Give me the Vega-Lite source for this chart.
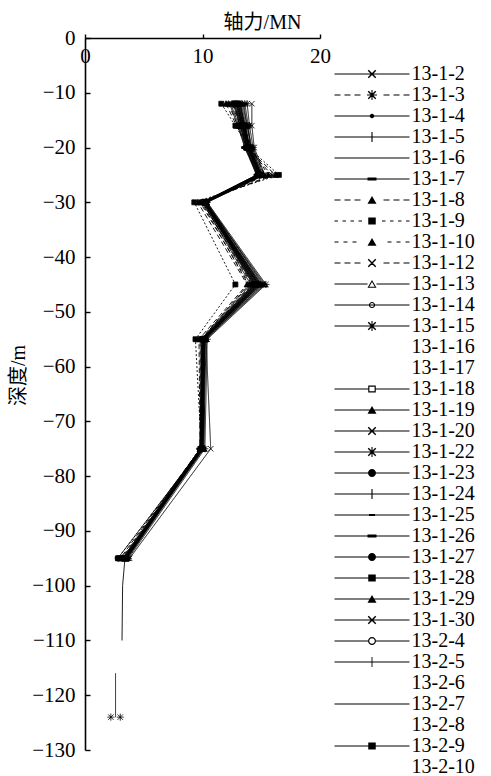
{
"$schema": "https://vega.github.io/schema/vega-lite/v6.json",
"autosize": {"type": "none"},
"width": 235,
"height": 712,
"padding": {"left": 85, "top": 38, "right": 171, "bottom": 26},
"data": {"values": [
{"s":"13-1-2","d":-12,"f":12.9},{"s":"13-1-2","d":-16,"f":13.4},{"s":"13-1-2","d":-20,"f":13.9},{"s":"13-1-2","d":-25,"f":14.8},{"s":"13-1-2","d":-30,"f":10.2},{"s":"13-1-2","d":-45,"f":14.9},{"s":"13-1-2","d":-55,"f":10.1},{"s":"13-1-2","d":-75,"f":9.9},{"s":"13-1-2","d":-95,"f":3.4},
{"s":"13-1-3","d":-12,"f":12.5},{"s":"13-1-3","d":-16,"f":13.2},{"s":"13-1-3","d":-20,"f":13.8},{"s":"13-1-3","d":-25,"f":15.9},{"s":"13-1-3","d":-30,"f":10.0},{"s":"13-1-3","d":-45,"f":14.2},{"s":"13-1-3","d":-55,"f":10.0},{"s":"13-1-3","d":-75,"f":9.8},{"s":"13-1-3","d":-95,"f":3.2},
{"s":"13-1-4","d":-12,"f":13.2},{"s":"13-1-4","d":-16,"f":13.6},{"s":"13-1-4","d":-20,"f":14.0},{"s":"13-1-4","d":-25,"f":15.0},{"s":"13-1-4","d":-30,"f":10.3},{"s":"13-1-4","d":-45,"f":15.2},{"s":"13-1-4","d":-55,"f":10.2},{"s":"13-1-4","d":-75,"f":10.0},{"s":"13-1-4","d":-95,"f":3.5},
{"s":"13-1-5","d":-12,"f":12.7},{"s":"13-1-5","d":-16,"f":13.3},{"s":"13-1-5","d":-20,"f":13.7},{"s":"13-1-5","d":-25,"f":14.6},{"s":"13-1-5","d":-30,"f":10.1},{"s":"13-1-5","d":-45,"f":14.7},{"s":"13-1-5","d":-55,"f":10.0},{"s":"13-1-5","d":-75,"f":9.9},{"s":"13-1-5","d":-95,"f":3.3},
{"s":"13-1-6","d":-12,"f":13.0},{"s":"13-1-6","d":-16,"f":13.5},{"s":"13-1-6","d":-20,"f":13.9},{"s":"13-1-6","d":-25,"f":14.9},{"s":"13-1-6","d":-30,"f":10.2},{"s":"13-1-6","d":-45,"f":14.5},{"s":"13-1-6","d":-55,"f":10.1},{"s":"13-1-6","d":-75,"f":9.9},{"s":"13-1-6","d":-95,"f":3.4},{"s":"13-1-6","d":-105,"f":null},{"s":"13-1-6","d":-116,"f":2.6},{"s":"13-1-6","d":-124,"f":2.6},
{"s":"13-1-7","d":-12,"f":12.4},{"s":"13-1-7","d":-16,"f":13.1},{"s":"13-1-7","d":-20,"f":13.6},{"s":"13-1-7","d":-25,"f":14.7},{"s":"13-1-7","d":-30,"f":10.1},{"s":"13-1-7","d":-45,"f":14.4},{"s":"13-1-7","d":-55,"f":10.0},{"s":"13-1-7","d":-75,"f":9.8},{"s":"13-1-7","d":-95,"f":3.3},
{"s":"13-1-8","d":-12,"f":12.0},{"s":"13-1-8","d":-16,"f":12.9},{"s":"13-1-8","d":-20,"f":13.8},{"s":"13-1-8","d":-25,"f":16.2},{"s":"13-1-8","d":-30,"f":9.6},{"s":"13-1-8","d":-45,"f":13.8},{"s":"13-1-8","d":-55,"f":9.7},{"s":"13-1-8","d":-75,"f":9.8},{"s":"13-1-8","d":-95,"f":3.0},
{"s":"13-1-9","d":-12,"f":11.6},{"s":"13-1-9","d":-16,"f":12.8},{"s":"13-1-9","d":-20,"f":13.9},{"s":"13-1-9","d":-25,"f":16.5},{"s":"13-1-9","d":-30,"f":9.3},{"s":"13-1-9","d":-45,"f":12.8},{"s":"13-1-9","d":-55,"f":9.4},{"s":"13-1-9","d":-75,"f":9.9},{"s":"13-1-9","d":-95,"f":2.8},
{"s":"13-1-10","d":-12,"f":12.2},{"s":"13-1-10","d":-16,"f":13.0},{"s":"13-1-10","d":-20,"f":14.1},{"s":"13-1-10","d":-25,"f":15.6},{"s":"13-1-10","d":-30,"f":9.8},{"s":"13-1-10","d":-45,"f":14.0},{"s":"13-1-10","d":-55,"f":9.8},{"s":"13-1-10","d":-75,"f":9.8},{"s":"13-1-10","d":-95,"f":3.1},
{"s":"13-1-12","d":-12,"f":12.6},{"s":"13-1-12","d":-16,"f":13.4},{"s":"13-1-12","d":-20,"f":14.2},{"s":"13-1-12","d":-25,"f":15.3},{"s":"13-1-12","d":-30,"f":9.9},{"s":"13-1-12","d":-45,"f":13.9},{"s":"13-1-12","d":-55,"f":9.9},{"s":"13-1-12","d":-75,"f":9.9},{"s":"13-1-12","d":-95,"f":3.2},
{"s":"13-1-13","d":-12,"f":13.4},{"s":"13-1-13","d":-16,"f":13.8},{"s":"13-1-13","d":-20,"f":14.2},{"s":"13-1-13","d":-25,"f":15.1},{"s":"13-1-13","d":-30,"f":10.3},{"s":"13-1-13","d":-45,"f":15.3},{"s":"13-1-13","d":-55,"f":10.3},{"s":"13-1-13","d":-75,"f":10.1},{"s":"13-1-13","d":-95,"f":3.6},
{"s":"13-1-14","d":-12,"f":13.1},{"s":"13-1-14","d":-16,"f":13.6},{"s":"13-1-14","d":-20,"f":14.0},{"s":"13-1-14","d":-25,"f":15.0},{"s":"13-1-14","d":-30,"f":10.2},{"s":"13-1-14","d":-45,"f":15.0},{"s":"13-1-14","d":-55,"f":10.1},{"s":"13-1-14","d":-75,"f":10.0},{"s":"13-1-14","d":-95,"f":3.5},
{"s":"13-1-15","d":-12,"f":13.8},{"s":"13-1-15","d":-16,"f":14.0},{"s":"13-1-15","d":-20,"f":14.3},{"s":"13-1-15","d":-25,"f":15.2},{"s":"13-1-15","d":-30,"f":10.4},{"s":"13-1-15","d":-45,"f":15.4},{"s":"13-1-15","d":-55,"f":10.4},{"s":"13-1-15","d":-75,"f":10.2},{"s":"13-1-15","d":-95,"f":3.7},{"s":"13-1-15","d":-105,"f":null},{"s":"13-1-15","d":-124,"f":2.2},
{"s":"13-1-18","d":-12,"f":13.0},{"s":"13-1-18","d":-16,"f":13.5},{"s":"13-1-18","d":-20,"f":13.9},{"s":"13-1-18","d":-25,"f":14.8},{"s":"13-1-18","d":-30,"f":10.2},{"s":"13-1-18","d":-45,"f":14.8},{"s":"13-1-18","d":-55,"f":10.1},{"s":"13-1-18","d":-75,"f":10.0},{"s":"13-1-18","d":-95,"f":3.4},
{"s":"13-1-19","d":-12,"f":12.8},{"s":"13-1-19","d":-16,"f":13.3},{"s":"13-1-19","d":-20,"f":13.8},{"s":"13-1-19","d":-25,"f":14.7},{"s":"13-1-19","d":-30,"f":10.1},{"s":"13-1-19","d":-45,"f":14.6},{"s":"13-1-19","d":-55,"f":10.1},{"s":"13-1-19","d":-75,"f":9.9},{"s":"13-1-19","d":-95,"f":3.3},
{"s":"13-1-20","d":-12,"f":14.2},{"s":"13-1-20","d":-16,"f":14.2},{"s":"13-1-20","d":-20,"f":14.4},{"s":"13-1-20","d":-25,"f":15.3},{"s":"13-1-20","d":-30,"f":10.4},{"s":"13-1-20","d":-45,"f":15.1},{"s":"13-1-20","d":-55,"f":10.3},{"s":"13-1-20","d":-75,"f":10.7},{"s":"13-1-20","d":-95,"f":3.8},
{"s":"13-1-22","d":-12,"f":13.6},{"s":"13-1-22","d":-16,"f":13.9},{"s":"13-1-22","d":-20,"f":14.1},{"s":"13-1-22","d":-25,"f":15.0},{"s":"13-1-22","d":-30,"f":10.3},{"s":"13-1-22","d":-45,"f":14.9},{"s":"13-1-22","d":-55,"f":10.2},{"s":"13-1-22","d":-75,"f":10.0},{"s":"13-1-22","d":-95,"f":3.6},{"s":"13-1-22","d":-105,"f":null},{"s":"13-1-22","d":-124,"f":3.0},
{"s":"13-1-23","d":-12,"f":12.9},{"s":"13-1-23","d":-16,"f":13.4},{"s":"13-1-23","d":-20,"f":13.8},{"s":"13-1-23","d":-25,"f":14.9},{"s":"13-1-23","d":-30,"f":10.2},{"s":"13-1-23","d":-45,"f":14.3},{"s":"13-1-23","d":-55,"f":10.0},{"s":"13-1-23","d":-75,"f":9.9},{"s":"13-1-23","d":-95,"f":3.4},
{"s":"13-1-24","d":-12,"f":13.3},{"s":"13-1-24","d":-16,"f":13.7},{"s":"13-1-24","d":-20,"f":14.0},{"s":"13-1-24","d":-25,"f":14.9},{"s":"13-1-24","d":-30,"f":10.2},{"s":"13-1-24","d":-45,"f":14.7},{"s":"13-1-24","d":-55,"f":10.1},{"s":"13-1-24","d":-75,"f":9.9},{"s":"13-1-24","d":-95,"f":3.5},
{"s":"13-1-25","d":-12,"f":12.3},{"s":"13-1-25","d":-16,"f":13.0},{"s":"13-1-25","d":-20,"f":13.6},{"s":"13-1-25","d":-25,"f":14.6},{"s":"13-1-25","d":-30,"f":10.0},{"s":"13-1-25","d":-45,"f":14.1},{"s":"13-1-25","d":-55,"f":9.9},{"s":"13-1-25","d":-75,"f":9.8},{"s":"13-1-25","d":-95,"f":3.2},
{"s":"13-1-26","d":-12,"f":13.5},{"s":"13-1-26","d":-16,"f":13.8},{"s":"13-1-26","d":-20,"f":14.1},{"s":"13-1-26","d":-25,"f":15.1},{"s":"13-1-26","d":-30,"f":10.3},{"s":"13-1-26","d":-45,"f":15.0},{"s":"13-1-26","d":-55,"f":10.2},{"s":"13-1-26","d":-75,"f":10.0},{"s":"13-1-26","d":-95,"f":3.5},
{"s":"13-1-27","d":-12,"f":13.1},{"s":"13-1-27","d":-16,"f":13.5},{"s":"13-1-27","d":-20,"f":13.9},{"s":"13-1-27","d":-25,"f":14.8},{"s":"13-1-27","d":-30,"f":10.2},{"s":"13-1-27","d":-45,"f":14.6},{"s":"13-1-27","d":-55,"f":10.1},{"s":"13-1-27","d":-75,"f":10.0},{"s":"13-1-27","d":-95,"f":3.4},
{"s":"13-1-28","d":-12,"f":12.7},{"s":"13-1-28","d":-16,"f":13.2},{"s":"13-1-28","d":-20,"f":13.7},{"s":"13-1-28","d":-25,"f":14.7},{"s":"13-1-28","d":-30,"f":10.1},{"s":"13-1-28","d":-45,"f":14.4},{"s":"13-1-28","d":-55,"f":10.0},{"s":"13-1-28","d":-75,"f":9.9},{"s":"13-1-28","d":-95,"f":3.3},
{"s":"13-1-29","d":-12,"f":13.2},{"s":"13-1-29","d":-16,"f":13.6},{"s":"13-1-29","d":-20,"f":14.0},{"s":"13-1-29","d":-25,"f":15.0},{"s":"13-1-29","d":-30,"f":10.3},{"s":"13-1-29","d":-45,"f":14.8},{"s":"13-1-29","d":-55,"f":10.2},{"s":"13-1-29","d":-75,"f":10.1},{"s":"13-1-29","d":-95,"f":3.5},
{"s":"13-1-30","d":-12,"f":12.9},{"s":"13-1-30","d":-16,"f":13.4},{"s":"13-1-30","d":-20,"f":13.8},{"s":"13-1-30","d":-25,"f":14.9},{"s":"13-1-30","d":-30,"f":10.2},{"s":"13-1-30","d":-45,"f":14.5},{"s":"13-1-30","d":-55,"f":10.1},{"s":"13-1-30","d":-75,"f":10.0},{"s":"13-1-30","d":-95,"f":3.4},
{"s":"13-2-4","d":-12,"f":13.0},{"s":"13-2-4","d":-16,"f":13.5},{"s":"13-2-4","d":-20,"f":13.9},{"s":"13-2-4","d":-25,"f":14.9},{"s":"13-2-4","d":-30,"f":10.2},{"s":"13-2-4","d":-45,"f":14.7},{"s":"13-2-4","d":-55,"f":10.1},{"s":"13-2-4","d":-75,"f":9.9},{"s":"13-2-4","d":-95,"f":2.8},
{"s":"13-2-5","d":-12,"f":12.6},{"s":"13-2-5","d":-16,"f":13.2},{"s":"13-2-5","d":-20,"f":13.7},{"s":"13-2-5","d":-25,"f":14.7},{"s":"13-2-5","d":-30,"f":10.0},{"s":"13-2-5","d":-45,"f":14.3},{"s":"13-2-5","d":-55,"f":9.9},{"s":"13-2-5","d":-75,"f":9.8},{"s":"13-2-5","d":-95,"f":3.4},
{"s":"13-2-7","d":-12,"f":13.2},{"s":"13-2-7","d":-16,"f":13.6},{"s":"13-2-7","d":-20,"f":14.0},{"s":"13-2-7","d":-25,"f":15.0},{"s":"13-2-7","d":-30,"f":10.2},{"s":"13-2-7","d":-45,"f":14.8},{"s":"13-2-7","d":-55,"f":10.1},{"s":"13-2-7","d":-75,"f":10.0},{"s":"13-2-7","d":-95,"f":3.4},{"s":"13-2-7","d":-100,"f":3.2},{"s":"13-2-7","d":-110,"f":3.15},
{"s":"13-2-9","d":-12,"f":12.8},{"s":"13-2-9","d":-16,"f":13.4},{"s":"13-2-9","d":-20,"f":13.8},{"s":"13-2-9","d":-25,"f":14.8},{"s":"13-2-9","d":-30,"f":10.1},{"s":"13-2-9","d":-45,"f":14.5},{"s":"13-2-9","d":-55,"f":10.0},{"s":"13-2-9","d":-75,"f":9.9},{"s":"13-2-9","d":-95,"f":3.5}
]},
"encoding": {
  "x": {"field": "f", "type": "quantitative", "scale": {"domain": [0, 20], "nice": false, "zero": false},
    "axis": {"orient": "top", "values": [0, 10, 20], "title": "轴力/MN", "titleX": 177, "titleY": -16, "titleAlign": "center", "titleBaseline": "middle", "titleAngle": 0,
      "labelBaseline": "alphabetic", "labelPadding": -28, "tickSize": 4}},
  "y": {"field": "d", "type": "quantitative", "scale": {"domain": [-130, 0], "nice": false, "zero": false},
    "axis": {"orient": "left", "values": [0, -10, -20, -30, -40, -50, -60, -70, -80, -90, -100, -110, -120, -130], "title": "深度/m", "titleX": -67, "titleY": 337, "titleAlign": "center", "titleBaseline": "middle", "titleAngle": 270,
      "tickSize": -5, "labelPadding": 15}}
},
"layer": [
  {
    "mark": {"type": "line", "color": "black", "strokeWidth": 0.9, "invalid": "break-paths-filter-domains"},
    "encoding": {
      "detail": {"field": "s"},
      "order": {"field": "d", "sort": "descending"},
      "strokeDash": {"field": "s", "type": "nominal", "legend": null,
        "scale": {"domain": ["13-1-2","13-1-3","13-1-4","13-1-5","13-1-6","13-1-7","13-1-8","13-1-9","13-1-10","13-1-12","13-1-13","13-1-14","13-1-15","13-1-16","13-1-17","13-1-18","13-1-19","13-1-20","13-1-22","13-1-23","13-1-24","13-1-25","13-1-26","13-1-27","13-1-28","13-1-29","13-1-30","13-2-4","13-2-5","13-2-6","13-2-7","13-2-8","13-2-9","13-2-10"],
          "range": [[1,0],[5,3],[1,0],[1,0],[1,0],[1,0],[5,3],[2,2],[4,4],[5,3],[1,0],[1,0],[1,0],[1,0],[1,0],[1,0],[1,0],[1,0],[1,0],[1,0],[1,0],[1,0],[1,0],[1,0],[1,0],[1,0],[1,0],[1,0],[1,0],[1,0],[1,0],[1,0],[1,0],[1,0]]}}
    }
  },
  {
    "mark": {"type": "point", "filled": true, "color": "black", "stroke": "black", "strokeWidth": 0.8, "size": 30, "opacity": 1},
    "encoding": {
      "shape": {"field": "s", "type": "nominal", "legend": null,
        "scale": {"domain": ["13-1-2","13-1-3","13-1-4","13-1-5","13-1-6","13-1-7","13-1-8","13-1-9","13-1-10","13-1-12","13-1-13","13-1-14","13-1-15","13-1-16","13-1-17","13-1-18","13-1-19","13-1-20","13-1-22","13-1-23","13-1-24","13-1-25","13-1-26","13-1-27","13-1-28","13-1-29","13-1-30","13-2-4","13-2-5","13-2-6","13-2-7","13-2-8","13-2-9","13-2-10"],
          "range": [
            "M-1,-1L1,1M-1,1L1,-1",
            "M-1,-1L1,1M-1,1L1,-1M0,-1.3V1.3M-1.3,0H1.3",
            "M-0.5,0A0.5,0.5,0,1,1,0.5,0A0.5,0.5,0,1,1,-0.5,0Z",
            "M0,-1.3V1.3M-1.3,0H1.3",
            "M0,0",
            "M-1.2,-0.35H1.2V0.35H-1.2Z",
            "M-1.1,0.9L0,-1.1L1.1,0.9Z",
            "M-0.9,-0.9H0.9V0.9H-0.9Z",
            "M-1.1,0.9L0,-1.1L1.1,0.9Z",
            "M-1,-1L1,1M-1,1L1,-1",
            "M-1.1,0.9L0,-1.1L1.1,0.9ZM-0.7,0.65L0.7,0.65L0,-0.6Z",
            "M-0.8,0A0.8,0.8,0,1,1,0.8,0A0.8,0.8,0,1,1,-0.8,0ZM-0.5,0A0.5,0.5,0,1,0,0.5,0A0.5,0.5,0,1,0,-0.5,0Z",
            "M-1,-1L1,1M-1,1L1,-1M0,-1.3V1.3M-1.3,0H1.3",
            "M0,0",
            "M0,0",
            "M-0.9,-0.9H0.9V0.9H-0.9ZM-0.55,-0.55V0.55H0.55V-0.55Z",
            "M-1.1,0.9L0,-1.1L1.1,0.9Z",
            "M-1,-1L1,1M-1,1L1,-1",
            "M-1,-1L1,1M-1,1L1,-1M0,-1.3V1.3M-1.3,0H1.3",
            "M-1,0A1,1,0,1,1,1,0A1,1,0,1,1,-1,0Z",
            "M0,-1.3V1.3M-1.3,0H1.3",
            "M-0.8,-0.25H0.8V0.25H-0.8Z",
            "M-1.2,-0.35H1.2V0.35H-1.2Z",
            "M-1,0A1,1,0,1,1,1,0A1,1,0,1,1,-1,0Z",
            "M-0.9,-0.9H0.9V0.9H-0.9Z",
            "M-1.1,0.9L0,-1.1L1.1,0.9Z",
            "M-1,-1L1,1M-1,1L1,-1",
            "M-1,0A1,1,0,1,1,1,0A1,1,0,1,1,-1,0ZM-0.65,0A0.65,0.65,0,1,0,0.65,0A0.65,0.65,0,1,0,-0.65,0Z",
            "M0,-1.3V1.3M-1.3,0H1.3",
            "M0,0",
            "M0,0",
            "M0,0",
            "M-0.9,-0.9H0.9V0.9H-0.9Z",
            "M0,0"
          ]}}
    }
  },
  {
    "transform": [{"filter": "false"}],
    "mark": {"type": "point", "filled": true, "color": "black"},
    "encoding": {
      "shape": {"field": "s", "type": "nominal",
        "scale": {"domain": ["13-1-2","13-1-3","13-1-4","13-1-5","13-1-6","13-1-7","13-1-8","13-1-9","13-1-10","13-1-12","13-1-13","13-1-14","13-1-15","13-1-16","13-1-17","13-1-18","13-1-19","13-1-20","13-1-22","13-1-23","13-1-24","13-1-25","13-1-26","13-1-27","13-1-28","13-1-29","13-1-30","13-2-4","13-2-5","13-2-6","13-2-7","13-2-8","13-2-9","13-2-10"],
          "range": [
            "M-7.5,-0.11H7.5V0.11H-7.5ZM-0.85,-0.65L-0.65,-0.85L0.85,0.65L0.65,0.85ZM-0.85,0.65L0.65,-0.85L0.85,-0.65L-0.65,0.85Z",
            "M-7.5,-0.11H-6.3V0.11H-7.5ZM-5.5,-0.11H-4.3V0.11H-5.5ZM-3.5,-0.11H-2.3V0.11H-3.5ZM2.3,-0.11H3.5V0.11H2.3ZM4.3,-0.11H5.5V0.11H4.3ZM6.3,-0.11H7.5V0.11H6.3ZM-0.85,-0.65L-0.65,-0.85L0.85,0.65L0.65,0.85ZM-0.85,0.65L0.65,-0.85L0.85,-0.65L-0.65,0.85ZM-0.11,-1H0.11V1H-0.11ZM-1,-0.11H1V0.11H-1Z",
            "M-7.5,-0.11H7.5V0.11H-7.5ZM-0.45,0A0.45,0.45,0,1,1,0.45,0A0.45,0.45,0,1,1,-0.45,0Z",
            "M-7.5,-0.11H7.5V0.11H-7.5ZM-0.11,-1H0.11V1H-0.11Z",
            "M-7.5,-0.11H7.5V0.11H-7.5Z",
            "M-7.5,-0.11H7.5V0.11H-7.5ZM-0.9,-0.28H0.9V0.28H-0.9Z",
            "M-7.5,-0.11H-6.3V0.11H-7.5ZM-5.5,-0.11H-4.3V0.11H-5.5ZM-3.5,-0.11H-2.3V0.11H-3.5ZM2.3,-0.11H3.5V0.11H2.3ZM4.3,-0.11H5.5V0.11H4.3ZM6.3,-0.11H7.5V0.11H6.3ZM-0.9,0.75L0,-0.82L0.9,0.75Z",
            "M-7.5,-0.11H-6.8V0.11H-7.5ZM-5.9,-0.11H-5.2V0.11H-5.9ZM-4.3,-0.11H-3.6V0.11H-4.3ZM-2.7,-0.11H-2V0.11H-2.7ZM2,-0.11H2.7V0.11H2ZM3.6,-0.11H4.3V0.11H3.6ZM5.2,-0.11H5.9V0.11H5.2ZM6.8,-0.11H7.5V0.11H6.8ZM-0.75,-0.7H0.75V0.7H-0.75Z",
            "M-7.5,-0.09H-6.7V0.09H-7.5ZM-5.7,-0.09H-4.9V0.09H-5.7ZM-3.9,-0.09H-3.1V0.09H-3.9ZM3.1,-0.09H3.9V0.09H3.1ZM4.9,-0.09H5.7V0.09H4.9ZM6.7,-0.09H7.5V0.09H6.7ZM-0.9,0.75L0,-0.82L0.9,0.75Z",
            "M-7.5,-0.11H-6.3V0.11H-7.5ZM-5.5,-0.11H-4.3V0.11H-5.5ZM-3.5,-0.11H-2.3V0.11H-3.5ZM2.3,-0.11H3.5V0.11H2.3ZM4.3,-0.11H5.5V0.11H4.3ZM6.3,-0.11H7.5V0.11H6.3ZM-0.85,-0.65L-0.65,-0.85L0.85,0.65L0.65,0.85ZM-0.85,0.65L0.65,-0.85L0.85,-0.65L-0.65,0.85Z",
            "M-7.5,-0.11H-0.9V0.11H-7.5ZM0.9,-0.11H7.5V0.11H0.9ZM-0.9,0.75L0,-0.82L0.9,0.75ZM-0.55,0.55L0.55,0.55L0,-0.4Z",
            "M-7.5,-0.11H7.5V0.11H-7.5ZM-0.62,0A0.62,0.62,0,1,1,0.62,0A0.62,0.62,0,1,1,-0.62,0ZM-0.4,0A0.4,0.4,0,1,0,0.4,0A0.4,0.4,0,1,0,-0.4,0Z",
            "M-7.5,-0.11H7.5V0.11H-7.5ZM-0.85,-0.65L-0.65,-0.85L0.85,0.65L0.65,0.85ZM-0.85,0.65L0.65,-0.85L0.85,-0.65L-0.65,0.85ZM-0.11,-1H0.11V1H-0.11Z",
            "M0,0",
            "M0,0",
            "M-7.5,-0.11H-0.75V0.11H-7.5ZM0.75,-0.11H7.5V0.11H0.75ZM-0.75,-0.7H0.75V0.7H-0.75ZM-0.52,-0.47V0.47H0.52V-0.47Z",
            "M-7.5,-0.11H7.5V0.11H-7.5ZM-0.9,0.75L0,-0.82L0.9,0.75Z",
            "M-7.5,-0.11H7.5V0.11H-7.5ZM-0.85,-0.65L-0.65,-0.85L0.85,0.65L0.65,0.85ZM-0.85,0.65L0.65,-0.85L0.85,-0.65L-0.65,0.85Z",
            "M-7.5,-0.11H7.5V0.11H-7.5ZM-0.85,-0.65L-0.65,-0.85L0.85,0.65L0.65,0.85ZM-0.85,0.65L0.65,-0.85L0.85,-0.65L-0.65,0.85ZM-0.11,-1H0.11V1H-0.11Z",
            "M-7.5,-0.11H7.5V0.11H-7.5ZM-0.8,0A0.8,0.8,0,1,1,0.8,0A0.8,0.8,0,1,1,-0.8,0Z",
            "M-7.5,-0.11H7.5V0.11H-7.5ZM-0.11,-1H0.11V1H-0.11Z",
            "M-7.5,-0.11H7.5V0.11H-7.5ZM-0.6,-0.2H0.6V0.2H-0.6Z",
            "M-7.5,-0.11H7.5V0.11H-7.5ZM-0.9,-0.28H0.9V0.28H-0.9Z",
            "M-7.5,-0.11H7.5V0.11H-7.5ZM-0.8,0A0.8,0.8,0,1,1,0.8,0A0.8,0.8,0,1,1,-0.8,0Z",
            "M-7.5,-0.11H7.5V0.11H-7.5ZM-0.75,-0.7H0.75V0.7H-0.75Z",
            "M-7.5,-0.11H7.5V0.11H-7.5ZM-0.9,0.75L0,-0.82L0.9,0.75Z",
            "M-7.5,-0.11H7.5V0.11H-7.5ZM-0.85,-0.65L-0.65,-0.85L0.85,0.65L0.65,0.85ZM-0.85,0.65L0.65,-0.85L0.85,-0.65L-0.65,0.85Z",
            "M-7.5,-0.11H-0.8V0.11H-7.5ZM0.8,-0.11H7.5V0.11H0.8ZM-0.8,0A0.8,0.8,0,1,1,0.8,0A0.8,0.8,0,1,1,-0.8,0ZM-0.56,0A0.56,0.56,0,1,0,0.56,0A0.56,0.56,0,1,0,-0.56,0Z",
            "M-7.5,-0.09H7.5V0.09H-7.5ZM-0.09,-1H0.09V1H-0.09Z",
            "M0,0",
            "M-7.5,-0.09H7.5V0.09H-7.5Z",
            "M0,0",
            "M-7.5,-0.11H7.5V0.11H-7.5ZM-0.75,-0.7H0.75V0.7H-0.75Z",
            "M0,0"
          ]},
        "legend": {
          "title": null, "orient": "none", "legendX": 277, "legendY": 26, "direction": "vertical", "columns": 1,
          "padding": 0, "rowPadding": 1, "labelFont": "Liberation Serif", "labelFontSize": 20, "labelColor": "black",
          "labelOffset": 29.5, "labelLimit": 200, "symbolLimit": 50, "symbolSize": 100, "symbolStrokeWidth": 0,
          "symbolFillColor": "black", "symbolOpacity": 1
        }
      }
    }
  }
],
"resolve": {"scale": {"shape": "independent"}},
"config": {
  "view": {"stroke": null},
  "axis": {
    "grid": false, "domainColor": "black", "domainWidth": 1.6, "tickColor": "black", "tickWidth": 1.4,
    "labelFont": "Liberation Serif", "labelFontSize": 21, "labelColor": "black", "labelFlush": false, "labelOverlap": false,
    "titleFont": "Liberation Serif, Noto Sans CJK SC", "titleFontSize": 20, "titleFontWeight": "normal", "titleColor": "black"
  }
}
}
